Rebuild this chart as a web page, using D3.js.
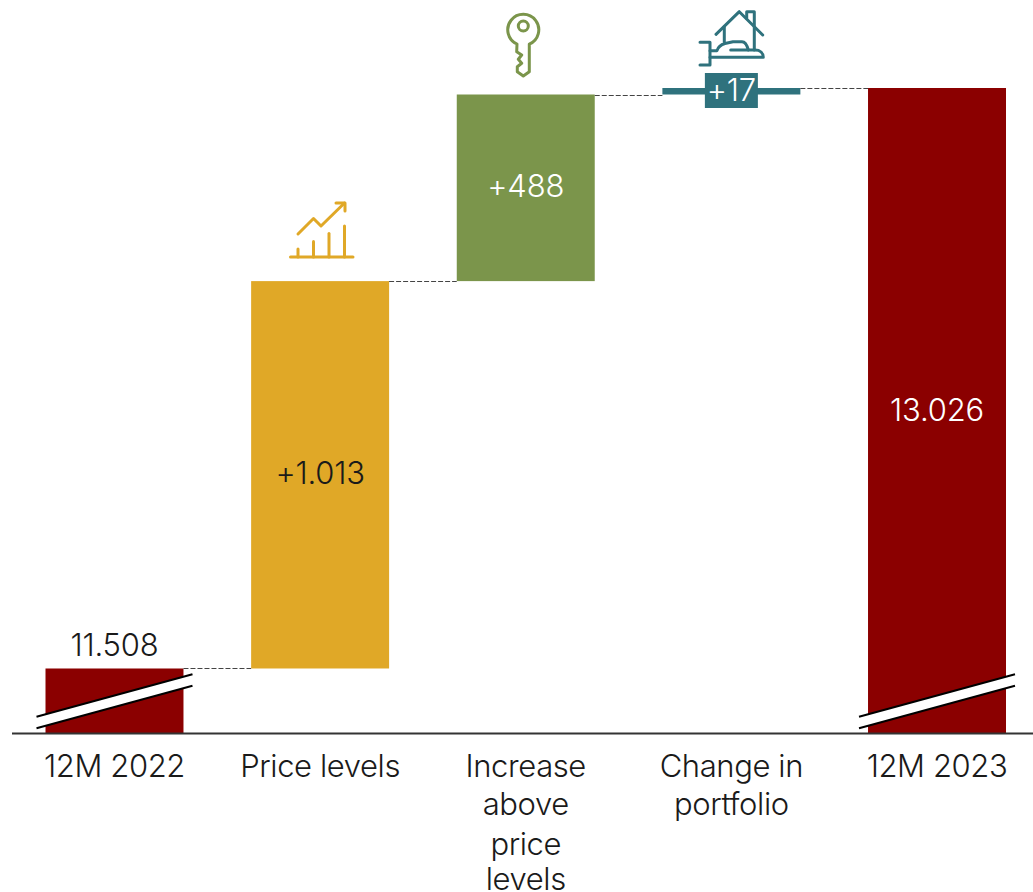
<!DOCTYPE html>
<html>
<head>
<meta charset="utf-8">
<script src="https://cdn.jsdelivr.net/npm/d3@7"></script>
<style>
  html, body { margin: 0; padding: 0; background: #fff; }
  svg { display: block; }
  text { font-family: Inter, sans-serif; font-weight: 300; }
</style>
</head>
<body>
<svg id="chart" width="1033" height="892"></svg>
<script>
// Revenue bridge from 12M 2022 to 12M 2023
const categories = ["12M 2022", "Price levels", "Increase above price levels", "Change in portfolio", "12M 2023"];
const categoryLines = [["12M 2022"], ["Price levels"], ["Increase", "above", "price", "levels"], ["Change in", "portfolio"], ["12M 2023"]];
const barStarts = [null, 11508, 12521, 13009, null];
const barValues = [11508, 1013, 488, 17, 13026];
const valueLabels = ["11.508", "+1.013", "+488", "+17", "13.026"];
const barColors = ["#8b0000", "#e0a827", "#7b954b", "#2f727d", "#8b0000"];
const labelColors = ["#1a1a1a", "#1a1a1a", "#ffffff", "#ffffff", "#ffffff"];

const svg = d3.select("#chart");
const axisFloor = 11338; // the value axis is truncated here, marked by the break bands

const x = d3.scaleBand().domain(categories).range([45.5, 1006]).paddingInner(0.329).paddingOuter(0);
const y = d3.scaleLinear().domain([axisFloor, 13026]).range([733.5, 88]);

const tops = barValues.map((v, i) => barStarts[i] === null ? v : barStarts[i] + v);
const bottoms = barValues.map((v, i) => barStarts[i] === null ? axisFloor : barStarts[i]);

// Bars
svg.selectAll("rect.bar").data(categories).join("rect")
  .attr("class", "bar")
  .attr("x", d => x(d))
  .attr("width", x.bandwidth())
  .attr("y", (d, i) => y(tops[i]))
  .attr("height", (d, i) => y(bottoms[i]) - y(tops[i]))
  .attr("fill", (d, i) => barColors[i]);

// Dashed connectors between neighbouring bars
const connectorLevels = [tops[0], tops[1], tops[2], tops[3]];
svg.selectAll("line.connector").data(connectorLevels).join("line")
  .attr("class", "connector")
  .attr("x1", (d, i) => x(categories[i]) + x.bandwidth())
  .attr("x2", (d, i) => x(categories[i + 1]))
  .attr("y1", d => Math.round(y(d)) + 0.5)
  .attr("y2", d => Math.round(y(d)) + 0.5)
  .attr("stroke", "#444")
  .attr("stroke-width", 1)
  .attr("stroke-dasharray", "5 2");

// Axis break bands across the two total bars
const breakBars = [0, 4];
const breakRise = 42.5, breakGap = 11.5, breakOver = 9;
breakBars.forEach(i => {
  const x0 = x(categories[i]) - breakOver;
  const x1 = x(categories[i]) + x.bandwidth() + breakOver;
  const yLow = 716.7, yHigh = yLow - breakRise;
  svg.append("path")
    .attr("d", `M${x0},${yLow}L${x1},${yHigh}L${x1},${yHigh + breakGap}L${x0},${yLow + breakGap}Z`)
    .attr("fill", "#fff");
  [0, breakGap].forEach(off => {
    svg.append("line")
      .attr("x1", x0).attr("y1", yLow + off)
      .attr("x2", x1).attr("y2", yHigh + off)
      .attr("stroke", "#000").attr("stroke-width", 2);
  });
});

// Baseline
svg.append("line")
  .attr("x1", 12).attr("x2", 1033)
  .attr("y1", y(axisFloor)).attr("y2", y(axisFloor))
  .attr("stroke", "#333").attr("stroke-width", 2);

// Backing chip behind the +17 label
const chipWidth = 53, chipHeight = 35;
const chipCx = x(categories[3]) + x.bandwidth() / 2;
svg.append("rect")
  .attr("x", chipCx - chipWidth / 2).attr("y", 73)
  .attr("width", chipWidth).attr("height", chipHeight)
  .attr("fill", barColors[3]);

// Value labels
svg.selectAll("text.value").data(valueLabels).join("text")
  .attr("class", "value")
  .attr("x", (d, i) => x(categories[i]) + x.bandwidth() / 2)
  .attr("y", (d, i) => {
    if (i === 0) return y(tops[0]) - 12;
    if (i === 3) return 101;
    if (i === 4) return 421;
    return (y(tops[i]) + y(bottoms[i])) / 2 + 9;
  })
  .attr("text-anchor", "middle")
  .attr("font-size", 31)
  .attr("letter-spacing", -0.2)
  .attr("fill", (d, i) => labelColors[i])
  .text(d => d);

// Category labels
const catGroups = svg.selectAll("text.cat").data(categories).join("text")
  .attr("class", "cat")
  .attr("text-anchor", "middle")
  .attr("font-size", 31)
  .attr("letter-spacing", -0.4)
  .attr("fill", "#1a1a1a");
const lineYs = [777, 815, 855, 890];
catGroups.each(function (d, i) {
  d3.select(this).selectAll("tspan").data(categoryLines[i]).join("tspan")
    .attr("x", x(d) + x.bandwidth() / 2)
    .attr("y", (t, j) => lineYs[j])
    .text(t => t);
});

// Pictograms above the delta bars
const icon = (tx, ty, color, paths) => {
  const g = svg.append("g").attr("transform", `translate(${tx},${ty})`)
    .attr("fill", "none").attr("stroke", color).attr("stroke-width", 3)
    .attr("stroke-linecap", "round").attr("stroke-linejoin", "round");
  paths.forEach(p => g.append("path").attr("d", p));
};
// rising chart
icon(270, 190, barColors[1], [
  "M20.5,67H83", "M28,67V59", "M43.5,67V51.5", "M59,67V43.5", "M74.5,67V36",
  "M28,44L43.5,28.5L51,36L74.5,13", "M66,13H75V21"
]);
// key
icon(480, 0, barColors[2], [
  "M49.3,44.1A15.5,15.5 0 1 0 37,44L36.7,51.7L41.7,55L38.3,59.3L41.7,63.3L37.3,66.7L37.3,71.7L43.3,76L49.3,71.7Z",
  "M48.3,26A5,5 0 1 1 38.3,26A5,5 0 1 1 48.3,26Z"
]);
// house resting on an open hand
icon(690, 0, barColors[3], [
  "M26,34.3L49.3,11.7L72.7,35",
  "M56.7,18.3V11.7H64.3V50",
  "M34.3,26.7V41.7",
  "M10,42.3H20V65H10",
  "M20,50.7H27C28,47 30,45 35,43.5L43,41.7H52C55,41.7 57,45 58.3,50",
  "M40.7,50H65C70,50 73.3,53 73.3,57.3H20"
]);
</script>
</body>
</html>
